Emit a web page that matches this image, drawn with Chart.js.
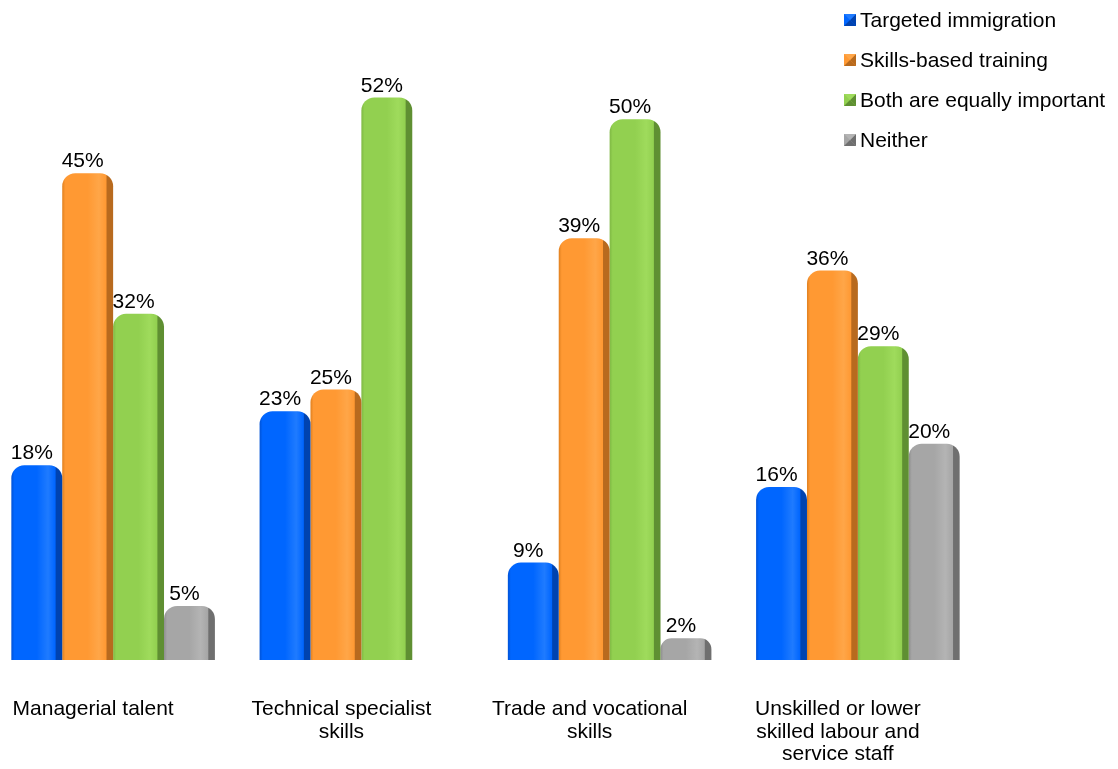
<!DOCTYPE html>
<html><head><meta charset="utf-8">
<script src="https://cdn.jsdelivr.net/npm/chart.js@4.4.0/dist/chart.umd.min.js"></script>
<style>
html,body{margin:0;padding:0;background:#fff;overflow:hidden;width:1118px;height:769px}
#wrap{position:absolute;left:-11px;top:0;width:1129px;height:808px}
</style></head><body><div id="wrap"><canvas id="c"></canvas></div>
<script>
const categories = ['Managerial talent', ['Technical specialist','skills'], ['Trade and vocational','skills'], ['Unskilled or lower','skilled labour and','service staff']];
const seriesNames = ['Targeted immigration','Skills-based training','Both are equally important','Neither'];
const targetedImmigration = [18, 23, 9, 16];
const skillsBasedTraining = [45, 25, 39, 36];
const bothEquallyImportant = [32, 52, 50, 29];
const neither = [5, null, 2, 20];
const yMin = 0, yMax = 60;

const palette = [
  {base:'#0066ff', light:'#1f7bff', edge:'#0052d6', dark:'#0043b0'},
  {base:'#ff9933', light:'#ffa648', edge:'#e0801f', dark:'#b86a1e'},
  {base:'#92d050', light:'#9fdb5c', edge:'#7fb844', dark:'#5f8f32'},
  {base:'#a6a6a6', light:'#b4b4b4', edge:'#8e8e8e', dark:'#6f6f6f'}
];
const FONT = '"Liberation Sans", Arial, sans-serif';

function barFill(ctx){
  const c = palette[ctx.datasetIndex];
  const el = ctx.element;
  if(!el || !isFinite(el.x) || !isFinite(el.width) || !el.width) return c.base;
  const x0 = el.x - el.width/2, x1 = el.x + el.width/2;
  const g = ctx.chart.ctx.createLinearGradient(x0, 0, x1, 0);
  g.addColorStop(0, c.edge);
  g.addColorStop(0.06, c.base);
  g.addColorStop(0.5, c.base);
  g.addColorStop(0.72, c.light);
  g.addColorStop(0.86, c.base);
  g.addColorStop(0.88, c.dark);
  g.addColorStop(1, c.dark);
  return g;
}

const seriesData = [targetedImmigration, skillsBasedTraining, bothEquallyImportant, neither];

const labelPlugin = {
  id:'valueLabels',
  afterDatasetsDraw(chart){
    const ctx = chart.ctx;
    ctx.save();
    ctx.font = '21px ' + FONT;
    ctx.fillStyle = '#000';
    ctx.textAlign = 'center';
    ctx.textBaseline = 'alphabetic';
    chart.data.datasets.forEach((ds,i)=>{
      const meta = chart.getDatasetMeta(i);
      meta.data.forEach((el,j)=>{
        const v = ds.data[j];
        if(v == null) return;
        ctx.fillText(v + '%', el.x - 5, el.y - 6);
      });
    });
    ctx.restore();
  }
};

const legendPlugin = {
  id:'sideLegend',
  afterDraw(chart){
    const ctx = chart.ctx;
    ctx.save();
    ctx.font = '21px ' + FONT;
    ctx.textBaseline = 'middle';
    ctx.textAlign = 'left';
    const x = chart.width - 274;
    chart.data.datasets.forEach((ds,i)=>{
      const y = 20 + 40*i;
      const c = palette[i];
      const s = 12, mx = x, my = y - 6;
      ctx.fillStyle = c.base; ctx.fillRect(mx, my, s, s);
      ctx.fillStyle = c.dark;
      ctx.beginPath(); ctx.moveTo(mx+s, my); ctx.lineTo(mx+s, my+s); ctx.lineTo(mx+s/2, my+s/2); ctx.closePath(); ctx.fill();
      ctx.beginPath(); ctx.moveTo(mx, my+s); ctx.lineTo(mx+s, my+s); ctx.lineTo(mx+s/2, my+s/2); ctx.closePath(); ctx.fill();
      ctx.fillStyle = c.light;
      ctx.beginPath(); ctx.moveTo(mx, my); ctx.lineTo(mx+s, my); ctx.lineTo(mx+s/2, my+s/2); ctx.closePath(); ctx.fill();
      ctx.fillStyle = '#000';
      ctx.fillText(ds.label, x + 16, y + 1);
    });
    ctx.restore();
  }
};

const chart = new Chart(document.getElementById('c'), {
  type:'bar',
  data:{
    labels: categories,
    datasets: seriesNames.map((name,i)=>({
      label: name,
      data: seriesData[i],
      backgroundColor: barFill,
      borderWidth: 0,
      borderRadius: {topLeft: 13, topRight: 13, bottomLeft: 0, bottomRight: 0},
      borderSkipped: false,
      categoryPercentage: 0.82,
      barPercentage: 1.0
    }))
  },
  options:{
    responsive:true,
    maintainAspectRatio:false,
    animation:false,
    layout:{padding:{top:11, right:136, left:0, bottom:4}},
    plugins:{legend:{display:false}, tooltip:{enabled:false}},
    scales:{
      x:{
        grid:{display:false, drawTicks:false},
        border:{display:false},
        ticks:{
          color:'#000',
          font:{family:FONT, size:21, lineHeight:1.08},
          padding:38,
          labelOffset:-20,
          maxRotation:0, minRotation:0, autoSkip:false
        }
      },
      y:{display:false, min:yMin, max:yMax}
    }
  },
  plugins:[labelPlugin, legendPlugin]
});
chart.update();
</script></body></html>
